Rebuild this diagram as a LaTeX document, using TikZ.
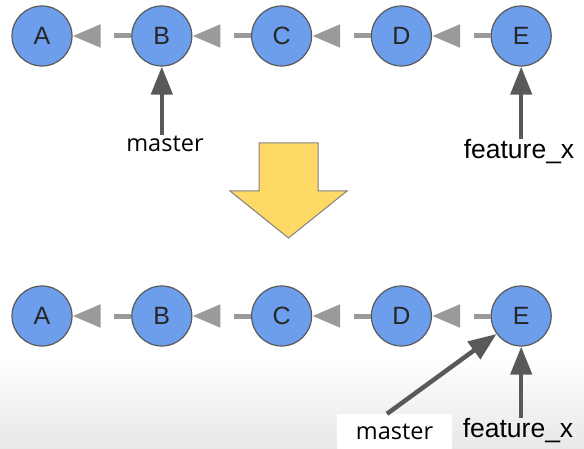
\documentclass[tikz,border=0pt]{standalone}
\usepackage{fontspec}
\setmainfont{Liberation Sans}
\newfontfamily\labelfont{Open Sans}
\usetikzlibrary{arrows.meta}
\definecolor{commitblue}{HTML}{6D9EEB}
\definecolor{darkline}{HTML}{595959}
\definecolor{lightline}{HTML}{9A9A9A}
\definecolor{bigyellow}{HTML}{FFD966}
\tikzset{
  commit/.style={circle,draw=darkline,line width=1.2pt,fill=commitblue,minimum size=60pt,inner sep=0pt,
    font=\fontsize{25}{30}\selectfont,text=black!85},
  parent/.style={draw=lightline,line width=5pt,dash pattern=on 17pt off 15pt,
    -{Triangle[length=28pt,width=22pt]}},
  pointer/.style={draw=darkline,line width=4.5pt,-{Triangle[length=28pt,width=21pt]}},
  mlabel/.style={font=\labelfont\fontsize{23.5}{28}\selectfont,inner sep=1pt},
  flabel/.style={font=\fontsize{26.5}{30}\selectfont,inner sep=1pt}
}
\begin{document}
\begin{tikzpicture}[x=1pt,y=-1pt]
	\useasboundingbox (0,0) rectangle (584,449);
	%background, a bit gray at the bottom
	\shade[top color=white,bottom color=black!9] (0,355) rectangle (584,449);
	\def\start{42}
	\def\gap{119.8}
	% before
	\foreach \n [count=\i] in {A,B,C,D,E}
		\node[commit] (\n1) at ({\start+\gap*(\i-1)},36) {\n};
	\foreach \a/\b in {B/A,C/B,D/C,E/D}
		\draw[parent] (\a1) -- (\b1);
	\node[mlabel] (m1) at (165,144) {master};
	\node[flabel] (f1) at (519,152) {feature\_x};
	\draw[pointer] (m1.north -| B1.south) -- (B1);
	\draw[pointer] (f1.north -| E1.south) -- (E1);
	% big arrow
	\draw[fill=bigyellow,draw=gray,line width=1pt] (259,143) -- (318,143) -- (318,191) -- (347,191)
		-- (288.5,238) -- (230,191) -- (259,191) -- cycle;
	% after
	\foreach \n [count=\i] in {A,B,C,D,E}
		\node[commit] (\n2) at ({\start+\gap*(\i-1)},316) {\n};
	\foreach \a/\b in {B/A,C/B,D/C,E/D}
		\draw[parent] (\a2) -- (\b2);
	\node[mlabel,fill=white,minimum width=115pt,minimum height=35pt] (m2) at (394.5,431.5) {master};
	\node[flabel] (f2) at (518,431) {feature\_x};
	\draw[pointer] ([xshift=-7.5pt]m2.north) -- (E2);
	\draw[pointer] (f2.north -| E2.south) -- (E2);
\end{tikzpicture}
\end{document}
